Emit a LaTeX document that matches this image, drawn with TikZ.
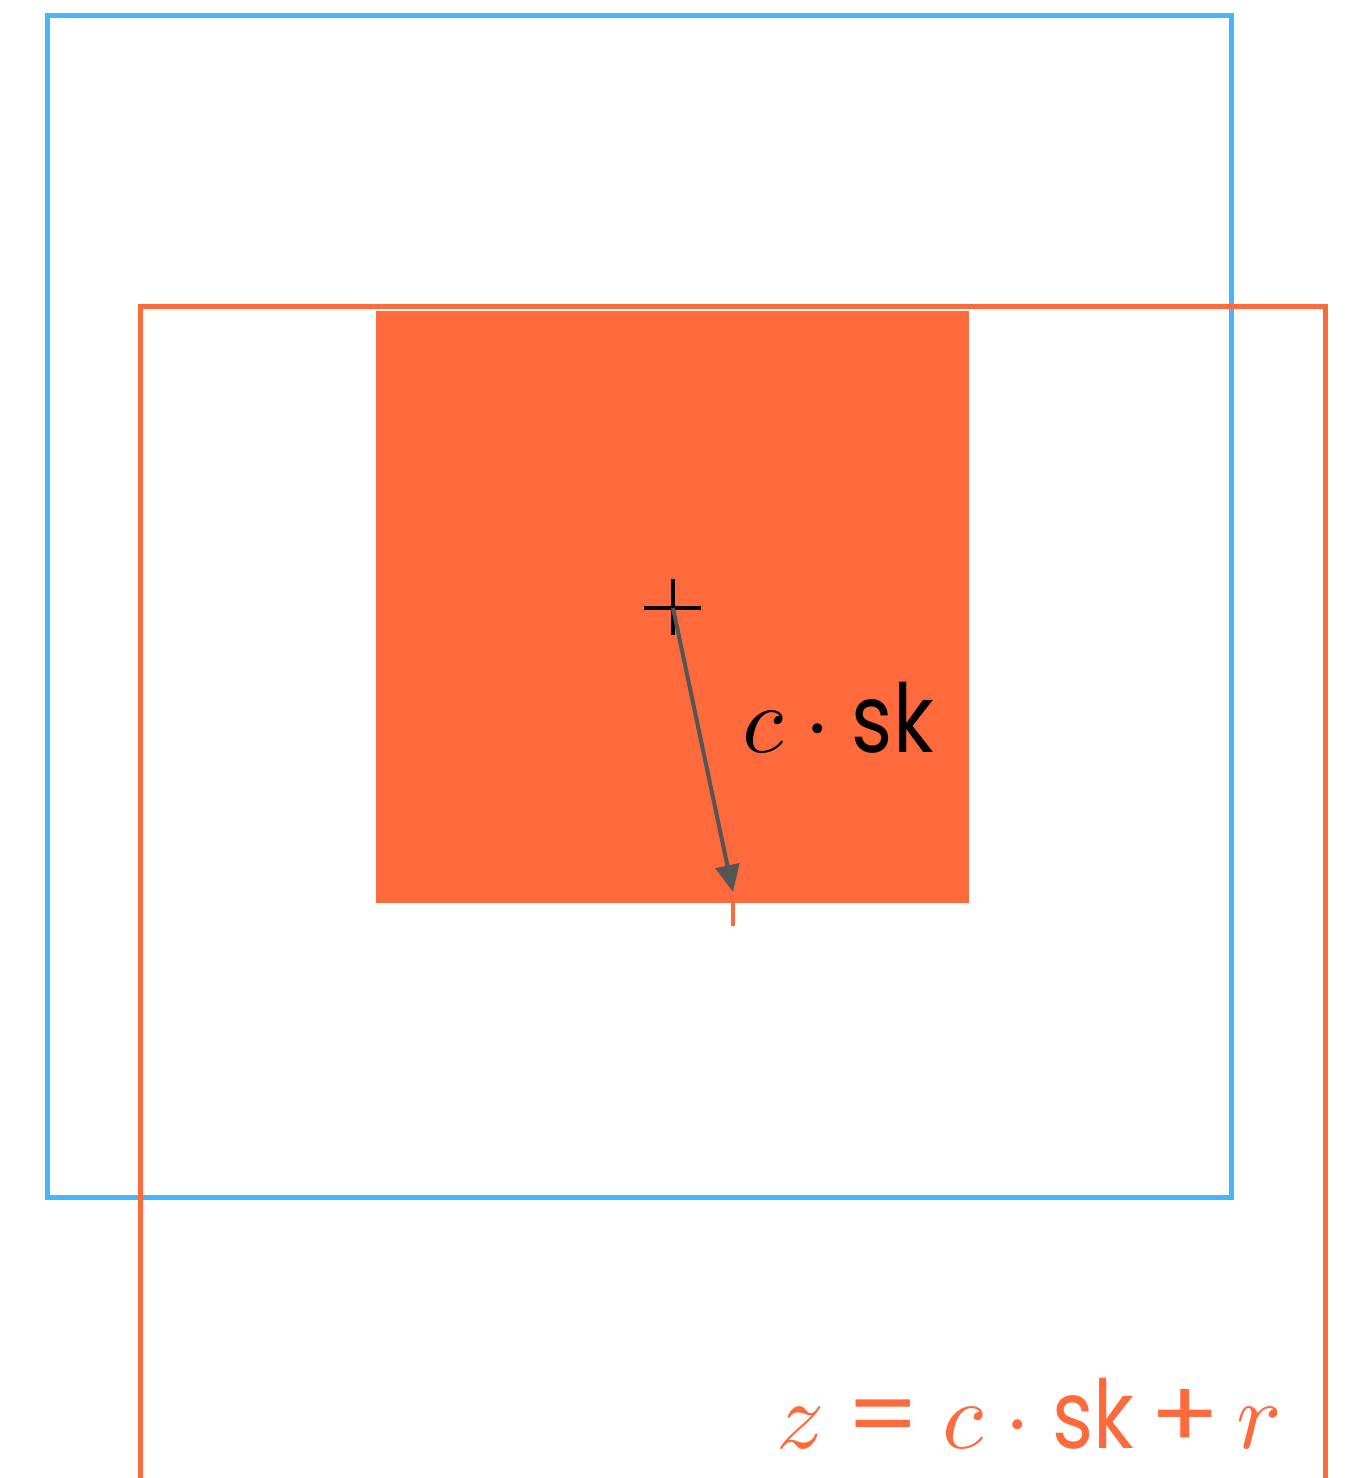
\documentclass[tikz,border=0pt]{standalone}
\usepackage{fontspec}
\usepackage{graphicx}
\newfontfamily\geo{Poppins}
\usetikzlibrary{arrows.meta}
\definecolor{skyblue}{RGB}{71,180,255}
\definecolor{coral}{RGB}{255,106,61}
\definecolor{arrowgray}{RGB}{85,85,85}
\newcommand{\skword}{\mbox{\scalebox{0.83}[1]{\geo sk}}}
\newcommand{\geoeq}{\mkern-1mu\mathrel{\mbox{\scalebox{1.1}[1]{\geo =}}}\mkern-1mu}
\newcommand{\geoplus}{\mkern-1mu\mathbin{\mbox{\scalebox{1.1}[1]{\geo +}}}\mkern-1mu}
\tikzset{
  frameline/.style={line width=5pt},
  bigtext/.style={anchor=base west, inner sep=0pt},
  crossline/.style={black, line width=4pt},
  vecarrow/.style={arrowgray, line width=4pt, -{Triangle[length=27pt,width=24pt]}}
}
\begin{document}
\begin{tikzpicture}[x=1pt,y=-1pt]
\path[use as bounding box] (0,0) rectangle (1351,1478);
\clip (0,0) rectangle (1351,1478);
% blue frame
\draw[skyblue, frameline] (47.5,15.5) rectangle (1231.5,1197.5);
% orange frame (open at bottom, cropped)
\draw[coral, frameline] (140.5,1600) |- (1325.5,306) -- (1325.5,1600);
% filled square
\fill[coral] (376,311) rectangle (969,903);
% small tick
\draw[coral, line width=4pt] (733,903) -- (733,926);
% cross
\coordinate (ctr) at (673,608);
\draw[crossline] (644,608) -- (701,608);
\draw[crossline] (673,579) -- (673,635);
% arrow
\coordinate (tip) at (733,892);
\draw[vecarrow] (ctr) -- (tip);
% labels
\node[bigtext] (lbl) at (742,752) {\scalebox{9.5}{$c\cdot\skword$}};
\node[bigtext, text=coral] (eq) at (776,1448) {\scalebox{9.5}{$z \geoeq c\cdot\skword \geoplus r$}};
\end{tikzpicture}
\end{document}
